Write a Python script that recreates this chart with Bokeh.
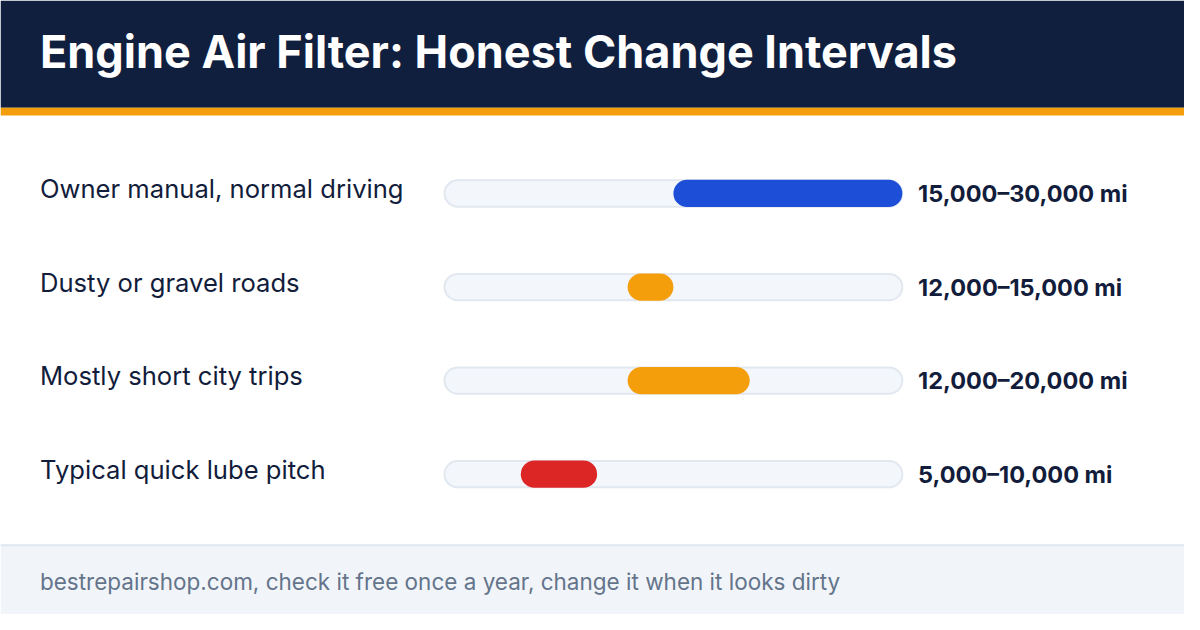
from bokeh.plotting import figure
from bokeh.models import Range1d, ColumnDataSource
from bokeh.core.properties import value
from bokeh.embed import file_html
from bokeh.resources import INLINE

# ---- data ----
title = "Engine Air Filter: Honest Change Intervals"
categories = ["Owner manual, normal driving", "Dusty or gravel roads",
              "Mostly short city trips", "Typical quick lube pitch"]
low_miles = [15000, 12000, 12000, 5000]
high_miles = [30000, 15000, 20000, 10000]
value_labels = ["15,000\u201330,000 mi", "12,000\u201315,000 mi",
                "12,000\u201320,000 mi", "5,000\u201310,000 mi"]
bar_colors = ["#1d4ed8", "#f59e0b", "#f59e0b", "#dc2626"]
scale_max = 30000
footer = "bestrepairshop.com, check it free once a year, change it when it looks dirty"

# ---- layout (reference pixel space 1200 x 630) ----
W, H = 1184, 614
TRACK_L, TRACK_R = 450, 914
mpp = scale_max / (TRACK_R - TRACK_L)  # miles per reference pixel
row_y = [198 + 96 * i for i in range(len(categories))]

NAVY = "#111f3f"
TEXT = "#121c3b"
FONT = value("Inter")

p = figure(width=W, height=H, output_backend="svg", toolbar_location=None,
           x_range=Range1d(-TRACK_L * mpp, (1200 - TRACK_L) * mpp),
           y_range=Range1d(630, 0), min_border=0,
           x_axis_location=None, y_axis_location=None)
p.extra_x_ranges = {"px": Range1d(0, 1200)}
p.grid.visible = False
p.outline_line_color = None
p.background_fill_color = "white"
p.border_fill_color = "white"

# header + stripe + footer
p.quad(left=0, right=1200, top=0, bottom=110, fill_color=NAVY, line_color=None, x_range_name="px")
p.quad(left=0, right=1200, top=110, bottom=118, fill_color="#f59e0b", line_color=None, x_range_name="px")
p.quad(left=0, right=1200, top=558, bottom=630, fill_color="#f1f5f9", line_color=None, x_range_name="px")
p.segment(x0=0, x1=1200, y0=559, y1=559, line_color="#e2e8f0", line_width=2, x_range_name="px")

p.text(x=[40], y=[52], text=[title], text_color="white", text_font=FONT,
       text_font_style="bold", text_font_size="45px", text_baseline="middle",
       x_range_name="px")

src = ColumnDataSource(dict(cat=categories, lo=low_miles, hi=high_miles,
                            lab=value_labels, col=bar_colors, y=row_y,
                            ty=[y - 5 for y in row_y],
                            zero=[0] * len(categories),
                            mx=[scale_max] * len(categories)))

# tracks
p.hbar(y="y", left="zero", right="mx", height=27, source=src,
       fill_color="#f3f6fa", line_color="#e2e8f0", line_width=2, border_radius=14)
# ranges
p.hbar(y="y", left="lo", right="hi", height=28, source=src,
       fill_color="col", line_color=None, border_radius=14)

p.text(x=40, y="ty", text="cat", source=src, text_color=TEXT, text_font=FONT,
       text_font_size="25.6px", text_baseline="middle", x_range_name="px")
p.text(x=930, y="y", text="lab", source=src, text_color=TEXT, text_font=FONT,
       text_font_style="bold", text_font_size="23.5px", text_baseline="middle",
       x_range_name="px")

p.text(x=[40], y=[596], text=[footer], text_color="#64748b", text_font=FONT,
       text_font_size="22.5px", text_baseline="middle", x_range_name="px")

open("out.html", "w").write(file_html(p, INLINE))
